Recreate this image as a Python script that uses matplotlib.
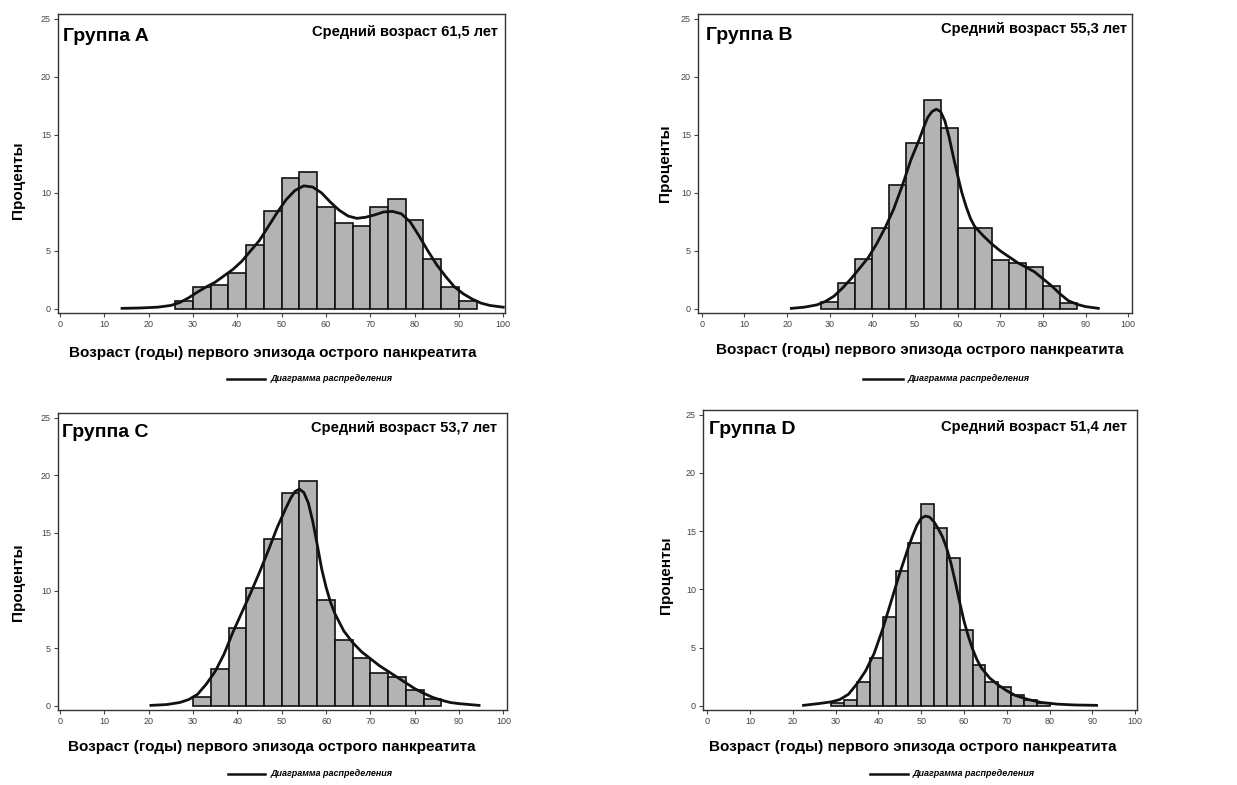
import numpy as np
import matplotlib.pyplot as plt
from matplotlib.lines import Line2D

plt.rcParams['font.family'] = ['Liberation Sans', 'DejaVu Sans']

group_names = ['Группа A', 'Группа B', 'Группа C', 'Группа D']
mean_labels = ['Средний возраст 61,5 лет', 'Средний возраст 55,3 лет',
               'Средний возраст 53,7 лет', 'Средний возраст 51,4 лет']
xlabel_text = 'Возраст (годы) первого эпизода острого панкреатита'
ylabel_text = 'Проценты'
legend_text = 'Диаграмма распределения'

# histogram bin edges (years) and bar heights (%)
edges_a = np.arange(26, 95, 4)
heights_a = [0.7, 1.9, 2.05, 3.1, 5.5, 8.4, 11.3, 11.8, 8.8, 7.4, 7.1, 8.75,
             9.45, 7.65, 4.3, 1.9, 0.7]
edges_b = np.arange(28, 89, 4)
heights_b = [0.6, 2.2, 4.3, 7.0, 10.7, 14.3, 18.0, 15.6, 6.95, 6.95, 4.2,
             3.95, 3.6, 2.0, 0.5]
edges_c = np.arange(30, 87, 4)
heights_c = [0.8, 3.2, 6.8, 10.2, 14.5, 18.5, 19.5, 9.2, 5.7, 4.2, 2.9, 2.5,
             1.4, 0.6]
edges_d = np.arange(29, 81, 3)
heights_d = [0.25, 0.55, 2.05, 4.1, 7.65, 11.6, 14.0, 17.3, 15.3, 12.7, 6.5,
             3.5, 2.05, 1.6, 0.9, 0.5, 0.25]

# distribution curves (age, %)
curve_a_x = [14, 18, 22, 25, 27, 29, 31, 33, 35, 37, 39, 41, 43, 45, 47, 49,
             51, 53, 55, 57, 59, 61, 63, 65, 67, 69, 71, 73, 75, 77, 79, 81,
             83, 85, 87, 89, 91, 93, 95, 97, 100]
curve_a_y = [0.05, 0.08, 0.15, 0.3, 0.55, 0.95, 1.45, 1.9, 2.3, 2.85, 3.4,
             4.1, 5.0, 5.9, 7.1, 8.3, 9.4, 10.2, 10.6, 10.5, 10.0, 9.2, 8.5,
             8.0, 7.8, 7.9, 8.1, 8.35, 8.4, 8.2, 7.5, 6.3, 5.0, 3.8, 2.8, 1.9,
             1.3, 0.85, 0.5, 0.3, 0.15]
curve_b_x = [21, 24, 27, 29, 31, 33, 35, 37, 39, 41, 43, 45, 47, 49, 51, 52,
             53, 54, 55, 56, 57, 58, 59, 60, 61, 62, 63, 64, 66, 68, 70, 72,
             74, 76, 78, 80, 82, 84, 86, 88, 90, 93]
curve_b_y = [0.05, 0.15, 0.35, 0.65, 1.1, 1.8, 2.6, 3.5, 4.4, 5.6, 7.0, 8.6,
             10.6, 12.8, 14.6, 15.6, 16.5, 17.0, 17.2, 17.0, 16.2, 14.8, 13.1,
             11.5, 10.0, 8.8, 7.8, 7.1, 6.3, 5.6, 5.0, 4.5, 4.0, 3.6, 3.2,
             2.6, 2.0, 1.3, 0.7, 0.4, 0.2, 0.05]
curve_c_x = [20.5, 24, 27, 29, 31, 33, 35, 37, 39, 41, 43, 45, 47, 49, 51, 52,
             53, 54, 55, 56, 57, 58, 59, 60, 61, 62, 64, 66, 68, 70, 72, 74,
             76, 78, 80, 82, 84, 86, 88, 90, 94.5]
curve_c_y = [0.05, 0.12, 0.3, 0.55, 1.0, 1.9, 3.0, 4.5, 6.4, 8.1, 9.8, 11.6,
             13.5, 15.5, 17.2, 18.0, 18.6, 18.8, 18.5, 17.6, 16.0, 14.0, 11.9,
             10.3, 9.0, 8.0, 6.5, 5.5, 4.7, 4.1, 3.5, 3.0, 2.5, 2.0, 1.5, 1.1,
             0.75, 0.5, 0.3, 0.2, 0.05]
curve_d_x = [22.5, 26, 29, 31, 33, 35, 37, 39, 41, 43, 45, 47, 48, 49, 50, 51,
             52, 53, 54, 55, 56, 57, 58, 59, 60, 61, 62, 63, 64, 66, 68, 70,
             72, 75, 78, 82, 86, 91]
curve_d_y = [0.05, 0.2, 0.35, 0.55, 1.0, 1.9, 3.0, 4.5, 6.6, 9.0, 11.4, 13.6,
             14.6, 15.5, 16.1, 16.3, 16.2, 15.8, 15.2, 14.5, 13.5, 12.2, 10.6,
             8.9, 7.3, 6.0, 4.9, 4.0, 3.3, 2.4, 1.8, 1.3, 0.9, 0.55, 0.3,
             0.15, 0.08, 0.05]

edges = [edges_a, edges_b, edges_c, edges_d]
heights = [heights_a, heights_b, heights_c, heights_d]
curves = [(curve_a_x, curve_a_y), (curve_b_x, curve_b_y),
          (curve_c_x, curve_c_y), (curve_d_x, curve_d_y)]

W, H = 1237, 785
# axes boxes in pixels: left, right, top, bottom
boxes = [(58, 505, 14, 313), (698, 1132, 14, 313),
         (58, 507, 413, 710), (703, 1137, 410, 710)]
xlims = [(-0.45, 100.4), (-0.9, 100.9), (-0.45, 100.8), (-1.0, 100.45)]
# text placements in axes fractions
title_pos = [(0.011, 0.91), (0.018, 0.913), (0.009, 0.919), (0.014, 0.92)]
mean_pos = [(0.984, 0.926), (0.988, 0.936), (0.978, 0.936), (0.977, 0.93)]
xlab_pos = [(0.48, -0.11), (0.51, -0.10), (0.477, -0.10), (0.484, -0.10)]
ylab_pos = [(-0.074, 0.445), (-0.06, 0.50), (-0.074, 0.43), (-0.069, 0.45)]
leg_pos = [(0.378, 0.463, -0.22), (0.38, 0.472, -0.22),
           (0.379, 0.461, -0.215), (0.385, 0.472, -0.213)]

fig = plt.figure(figsize=(W / 100, H / 100), dpi=100)

for i in range(4):
    l, r, t, b = boxes[i]
    ax = fig.add_axes([l / W, 1 - b / H, (r - l) / W, (b - t) / H])
    e = edges[i]
    ax.bar(e[:-1], heights[i], width=np.diff(e), align='edge',
           color='#b3b3b3', edgecolor='#111111', linewidth=1.2, zorder=2)
    cx, cy = curves[i]
    ax.plot(cx, cy, color='#111111', linewidth=2.0, zorder=3,
            solid_joinstyle='round')

    ax.set_xlim(*xlims[i])
    ax.set_ylim(-0.35, 25.4)
    ax.set_xticks(np.arange(0, 101, 10))
    ax.set_yticks(np.arange(0, 26, 5))
    ax.tick_params(labelsize=6.5, labelcolor='#444444', length=3, width=0.8,
                   color='#444444', pad=2)
    for s in ax.spines.values():
        s.set_linewidth(1.0)
        s.set_color('#333333')

    ax.text(*title_pos[i], group_names[i], transform=ax.transAxes,
            fontsize=14, fontweight='bold', ha='left', va='baseline')
    ax.text(*mean_pos[i], mean_labels[i], transform=ax.transAxes,
            fontsize=10.5, fontweight='bold', ha='right', va='baseline')

    ax.set_xlabel(xlabel_text, fontsize=11, fontweight='bold')
    ax.xaxis.set_label_coords(*xlab_pos[i])
    ax.set_ylabel(ylabel_text, fontsize=11, fontweight='bold')
    ax.yaxis.set_label_coords(*ylab_pos[i])

    x0, x1, yl = leg_pos[i]
    ax.add_line(Line2D([x0, x1], [yl, yl], transform=ax.transAxes,
                       color='#111111', linewidth=1.8, clip_on=False))
    ax.text(x1 + 0.012, yl, legend_text, transform=ax.transAxes,
            fontsize=6.5, fontweight='bold', fontstyle='italic',
            ha='left', va='center')

fig.savefig('out.png', dpi=100)
